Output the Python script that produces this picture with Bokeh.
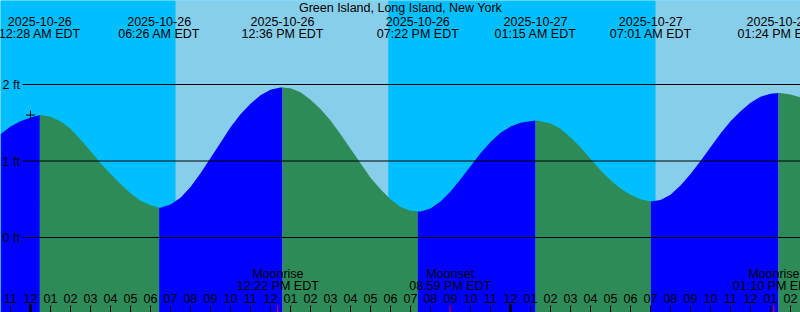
from datetime import date
import numpy as np
from bokeh.plotting import figure
from bokeh.models import Range1d
from bokeh.core.properties import value
from bokeh.embed import file_html
from bokeh.resources import INLINE

TITLE = "Green Island, Long Island, New York"

# Tide extremes
TIDE_DATES = ["2025-10-26", "2025-10-26", "2025-10-26", "2025-10-26",
              "2025-10-27", "2025-10-27", "2025-10-27"]
TIDE_TIMES = ["12:28 AM", "06:26 AM", "12:36 PM", "07:22 PM",
              "01:15 AM", "07:01 AM", "01:24 PM"]
TIDE_TYPES = ["H", "L", "H", "L", "H", "L", "H"]
TIDE_HEIGHTS = [1.60, 0.39, 1.96, 0.34, 1.53, 0.47, 1.89]

# Moon events
MOON_NAMES = ["Moonrise", "Moonset", "Moonrise"]
MOON_DATES = ["2025-10-26", "2025-10-26", "2025-10-27"]
MOON_TIMES = ["12:22 PM", "08:59 PM", "01:10 PM"]

# Sun events (day / night shading)
SUN_DATES = ["2025-10-26", "2025-10-26", "2025-10-27"]
SUN_TIMES = ["07:15 AM", "05:54 PM", "07:15 AM"]
SUN_NAMES = ["Sunrise", "Sunset", "Sunrise"]

# Tide curve read every 30 minutes, starting 10:30 PM 2025-10-25 (ft)
CURVE_START = "2025-10-25 10:30 PM"
CURVE_HEIGHTS = [
    1.35, 1.45, 1.52, 1.57, 1.60, 1.58, 1.52, 1.42, 1.28, 1.13,
    0.97, 0.83, 0.70, 0.58, 0.48, 0.42, 0.39, 0.43, 0.52, 0.66,
    0.84, 1.04, 1.24, 1.44, 1.61, 1.75, 1.86, 1.93, 1.96, 1.95,
    1.90, 1.80, 1.68, 1.53, 1.35, 1.16, 0.97, 0.78, 0.63, 0.50,
    0.40, 0.35, 0.34, 0.38, 0.47, 0.60, 0.76, 0.93, 1.10, 1.25,
    1.37, 1.45, 1.50, 1.52, 1.52, 1.49, 1.42, 1.31, 1.18, 1.03,
    0.88, 0.75, 0.64, 0.56, 0.50, 0.47, 0.49, 0.56, 0.68, 0.83,
    1.00, 1.18, 1.36, 1.52, 1.65, 1.76, 1.84, 1.88, 1.89, 1.87,
    1.83,
]
LEVELS = [0, 1, 2]
MARK_TIME, MARK_HEIGHT = "2025-10-26 12:00 AM", 1.60

BASE = date(2025, 10, 26)


def hours(d, t):
    y, m, dd = map(int, d.split("-"))
    hm, ampm = t.split()
    hh, mm = map(int, hm.split(":"))
    hh = hh % 12 + (12 if ampm == "PM" else 0)
    return (date(y, m, dd) - BASE).days * 24 + hh + mm / 60.0


def hours_dt(s):
    d, t, ap = s.split()
    return hours(d, t + " " + ap)


# pixel geometry helpers (layout only)
PX_PER_FT = 76.5
ZERO_PX = 237.0
TXT_SHIFT = 4.0


def ft(py):
    return (ZERO_PX - py) / PX_PER_FT


def tft(py):
    return ft(py - TXT_SHIFT)


FONT = value("Liberation Sans")
FS = value("12.5px")

t0 = hours_dt(CURVE_START)
ts = t0 + 0.5 * np.arange(len(CURVE_HEIGHTS))
hs = np.array(CURVE_HEIGHTS)
t_end = ts[-1]

tide_t = [hours(d, t) for d, t in zip(TIDE_DATES, TIDE_TIMES)]
moon_t = [hours(d, t) for d, t in zip(MOON_DATES, MOON_TIMES)]
sun_t = [hours(d, t) for d, t in zip(SUN_DATES, SUN_TIMES)]

y_bot, y_top = ft(312), ft(0)

p = figure(width=800, height=312, x_range=Range1d(t0, t_end),
           y_range=Range1d(y_bot, y_top), output_backend="svg",
           toolbar_location=None, min_border=0)
p.axis.visible = False
p.grid.visible = False
p.outline_line_color = None
p.background_fill_color = "#00BFFF"

# day / night bands
edges = [t0] + sun_t + [t_end]
states = ["night"] + ["day" if n == "Sunrise" else "night" for n in SUN_NAMES]
for i in range(len(edges) - 1):
    p.quad(left=edges[i], right=edges[i + 1], bottom=y_bot, top=y_top,
           fill_color="#87CEEB" if states[i] == "day" else "#00BFFF",
           line_color=None)

# tide fills split at extremes
bounds = [t0] + tide_t + [t_end]
for i in range(len(bounds) - 1):
    a, b = bounds[i], bounds[i + 1]
    mask = (ts > a) & (ts < b)
    xs = list(ts[mask])
    ys = list(hs[mask])
    ha = TIDE_HEIGHTS[i - 1] if i > 0 else hs[0]
    hb = TIDE_HEIGHTS[i] if i < len(tide_t) else hs[-1]
    xs = [a] + xs + [b]
    ys = [ha] + ys + [hb]
    if i < len(tide_t):
        rising = TIDE_TYPES[i] == "H"
    else:
        rising = TIDE_TYPES[-1] == "L"
    p.varea(x=xs, y1=[y_bot] * len(xs), y2=ys,
            fill_color="#0000FF" if rising else "#2E8B57")

# level lines and labels
x_line0 = t0 + 22 / 20.0
for lv in LEVELS:
    p.segment(x0=x_line0, y0=lv, x1=t_end, y1=lv, line_color="black", line_width=1)
p.text(x=[t0 + 2 / 20.0] * len(LEVELS),
       y=[lv - (4.5 + TXT_SHIFT * -1) / PX_PER_FT for lv in LEVELS],
       text=[f"{lv} ft" for lv in LEVELS], text_font=FONT, text_font_size=FS,
       text_align="left", text_baseline="alphabetic", text_color="black")

# title
p.text(x=[(t0 + t_end) / 2], y=[tft(11)], text=[TITLE], text_font=FONT,
       text_font_size=FS, text_align="center", text_baseline="alphabetic",
       text_color="black")

# tide event labels
p.text(x=tide_t, y=[tft(25)] * len(tide_t), text=TIDE_DATES, text_font=FONT,
       text_font_size=FS, text_align="center", text_baseline="alphabetic",
       text_color="black")
p.text(x=tide_t, y=[tft(37)] * len(tide_t), text=[t + " EDT" for t in TIDE_TIMES],
       text_font=FONT, text_font_size=FS, text_align="center",
       text_baseline="alphabetic", text_color="black")

# moon labels
p.text(x=moon_t, y=[tft(277.5)] * len(moon_t), text=MOON_NAMES, text_font=FONT,
       text_font_size=FS, text_align="center", text_baseline="alphabetic",
       text_color="black")
p.text(x=moon_t, y=[tft(289.5)] * len(moon_t), text=[t + " EDT" for t in MOON_TIMES],
       text_font=FONT, text_font_size=FS, text_align="center",
       text_baseline="alphabetic", text_color="black")

# hour labels and ticks
hrs = list(range(int(np.ceil(t0)), int(np.floor(t_end)) + 1))
labels = [f"{((h % 24) % 12) or 12:02d}" for h in hrs]
p.text(x=hrs, y=[tft(301.5)] * len(hrs), text=labels, text_font=FONT,
       text_font_size=FS, text_align="center", text_baseline="alphabetic",
       text_color="black")
normal = [h for h in hrs if h % 24 != 0]
mid = [h for h in hrs if h % 24 == 0]
p.segment(x0=normal, y0=[ft(305)] * len(normal), x1=normal, y1=[y_bot] * len(normal),
          line_color="black", line_width=1)
p.segment(x0=mid, y0=[ft(304)] * len(mid), x1=mid, y1=[y_bot] * len(mid),
          line_color="black", line_width=3)
p.segment(x0=moon_t, y0=[ft(305)] * len(moon_t), x1=moon_t, y1=[y_bot] * len(moon_t),
          line_color="#FF0000", line_width=1)

# marker
p.scatter(x=[hours_dt(MARK_TIME)], y=[MARK_HEIGHT], marker="cross", size=9,
          line_color="black", line_width=1)

open("out.html", "w").write(file_html(p, INLINE))
